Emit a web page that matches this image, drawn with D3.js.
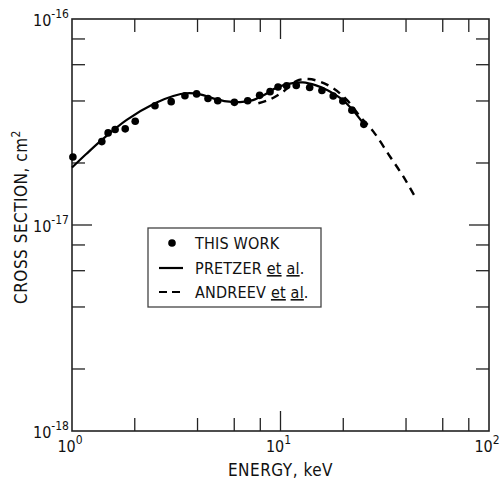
<!DOCTYPE html>
<html>
<head>
<meta charset="utf-8">
<script src="https://cdn.jsdelivr.net/npm/d3@7"></script>
<style>
  html, body { margin: 0; padding: 0; background: #fff; }
  svg text { font-family: "Liberation Sans Narrow", "DejaVu Sans Condensed", "Liberation Sans", sans-serif; fill: #111; }
</style>
</head>
<body>
<div id="chart"></div>
<script>
// Cross section vs energy, log-log, three data sets

// measured points (THIS WORK): energy in keV, cross section in cm^2
const workE = [1.01, 1.39, 1.49, 1.61, 1.80, 2.01, 2.50, 2.99, 3.48, 3.96, 4.49, 5.00,
  6.01, 6.96, 7.94, 8.91, 9.73, 10.7, 11.9, 13.8, 15.8, 17.9, 19.9, 22.0, 25.1]
const workS = [2.14e-17, 2.54e-17, 2.80e-17, 2.91e-17, 2.93e-17, 3.19e-17, 3.79e-17, 3.97e-17,
  4.24e-17, 4.33e-17, 4.11e-17, 4.01e-17, 3.94e-17, 4.01e-17, 4.26e-17, 4.44e-17, 4.68e-17,
  4.74e-17, 4.76e-17, 4.65e-17, 4.50e-17, 4.23e-17, 4.00e-17, 3.61e-17, 3.08e-17]

// PRETZER et al. (solid)
const pretzerE = [1.00, 1.17, 1.39, 1.83, 2.50, 3.06, 3.55, 4.11, 4.75, 5.52, 6.39, 7.38,
  8.43, 9.59, 11.1, 12.8, 14.8, 16.9, 19.3, 22.0, 24.9]
const pretzerS = [1.90e-17, 2.21e-17, 2.59e-17, 3.24e-17, 3.90e-17, 4.23e-17, 4.36e-17, 4.31e-17,
  4.12e-17, 3.98e-17, 3.95e-17, 4.04e-17, 4.30e-17, 4.65e-17, 4.86e-17, 4.92e-17, 4.76e-17,
  4.50e-17, 4.14e-17, 3.66e-17, 3.12e-17]

// ANDREEV et al. (dashed)
const andreevE = [7.83, 8.91, 10.3, 11.96, 13.6, 15.5, 17.9, 20.8, 24.1, 27.9, 33.5, 38.8, 44.2]
const andreevS = [3.90e-17, 4.07e-17, 4.44e-17, 5.01e-17, 5.11e-17, 4.96e-17, 4.61e-17,
  4.05e-17, 3.36e-17, 2.84e-17, 2.15e-17, 1.72e-17, 1.37e-17]

const xDecades = [1, 10, 100]
const xExp = ["0", "1", "2"]
const yDecades = [1e-18, 1e-17, 1e-16]
const yExp = ["-18", "-17", "-16"]
const minorMult = [2, 4, 6, 8]

const legendNames = ["THIS WORK", "PRETZER", "ANDREEV"]

const WIDTH = 500
const HEIGHT = 487
const MARGIN = { TOP: 19, RIGHT: 11, BOTTOM: 56, LEFT: 72 }

const svg = d3.select("#chart")
  .append("svg")
  .attr("width", WIDTH)
  .attr("height", HEIGHT)

const x = d3.scaleLog()
  .domain([1, 100])
  .range([MARGIN.LEFT, WIDTH - MARGIN.RIGHT])

const y = d3.scaleLog()
  .domain([1e-18, 1e-16])
  .range([HEIGHT - MARGIN.BOTTOM, MARGIN.TOP])

const x0 = x.range()[0], x1 = x.range()[1]
const y0 = y.range()[0], y1 = y.range()[1]

// frame
svg.append("rect")
  .attr("x", x0).attr("y", y1)
  .attr("width", x1 - x0).attr("height", y0 - y1)
  .attr("fill", "none")
  .attr("stroke", "#222")
  .attr("stroke-width", 1.6)

// ticks (inward on all four sides)
const ticks = svg.append("g").attr("stroke", "#222").attr("stroke-width", 1.3)
const MINOR = 13, MAJOR = 20

let xTicks = []
xDecades.slice(0, -1).forEach(d => {
  minorMult.forEach(m => xTicks.push({ v: d * m, len: MINOR }))
  if (d > 1) xTicks.push({ v: d, len: MAJOR })
})
xTicks.forEach(t => {
  ticks.append("line").attr("x1", x(t.v)).attr("x2", x(t.v))
    .attr("y1", y0).attr("y2", y0 - t.len)
  ticks.append("line").attr("x1", x(t.v)).attr("x2", x(t.v))
    .attr("y1", y1).attr("y2", y1 + t.len)
})

let yTicks = []
yDecades.slice(0, -1).forEach(d => {
  minorMult.forEach(m => yTicks.push({ v: d * m, len: MINOR }))
  if (d > 1e-18) yTicks.push({ v: d, len: MAJOR })
})
yTicks.forEach(t => {
  ticks.append("line").attr("y1", y(t.v)).attr("y2", y(t.v))
    .attr("x1", x0).attr("x2", x0 + t.len)
  ticks.append("line").attr("y1", y(t.v)).attr("y2", y(t.v))
    .attr("x1", x1).attr("x2", x1 - t.len)
})

// tick labels
xDecades.forEach((d, i) => {
  const t = svg.append("text")
    .attr("x", x(d) - 2)
    .attr("y", y0 + 21)
    .attr("text-anchor", "middle")
    .style("font-size", "16px")
  t.append("tspan").text("10")
  t.append("tspan").attr("dy", -8).style("font-size", "12px").text(xExp[i])
})

yDecades.forEach((d, i) => {
  const t = svg.append("text")
    .attr("x", x0 - 3)
    .attr("y", y(d) + 7)
    .attr("text-anchor", "end")
    .style("font-size", "16px")
  t.append("tspan").text("10")
  t.append("tspan").attr("dy", -8).style("font-size", "12px").text(yExp[i])
})

// axis titles
svg.append("text")
  .attr("x", (x0 + x1) / 2)
  .attr("y", HEIGHT - 11)
  .attr("text-anchor", "middle")
  .style("font-size", "17px")
  .style("letter-spacing", "0.5px")
  .text("ENERGY,  keV")

const yt = svg.append("text")
  .attr("transform", `translate(27,${(y0 + y1) / 2 - 8}) rotate(-90)`)
  .attr("text-anchor", "middle")
  .style("font-size", "17px")
  .style("letter-spacing", "0.5px")
yt.append("tspan").text("CROSS SECTION, cm")
yt.append("tspan").attr("dy", -7).style("font-size", "12px").text("2")

// curves
const line = d3.line()
  .x(d => x(d[0]))
  .y(d => y(d[1]))
  .curve(d3.curveCatmullRom.alpha(0.5))

svg.append("path")
  .datum(d3.zip(pretzerE, pretzerS))
  .attr("d", line)
  .attr("fill", "none")
  .attr("stroke", "#000")
  .attr("stroke-width", 2.2)

svg.append("path")
  .datum(d3.zip(andreevE, andreevS))
  .attr("d", line)
  .attr("fill", "none")
  .attr("stroke", "#000")
  .attr("stroke-width", 2.4)
  .attr("stroke-dasharray", "8,6")

svg.append("g")
  .selectAll("circle")
  .data(d3.zip(workE, workS))
  .join("circle")
  .attr("cx", d => x(d[0]))
  .attr("cy", d => y(d[1]))
  .attr("r", 3.8)
  .attr("fill", "#000")

// legend
const lg = svg.append("g")
lg.append("rect")
  .attr("x", 148).attr("y", 228)
  .attr("width", 173).attr("height", 79)
  .attr("fill", "#fff")
  .attr("stroke", "#444")
  .attr("stroke-width", 1.3)

const rows = [243, 268, 292]
lg.append("circle").attr("cx", 172).attr("cy", rows[0]).attr("r", 3.8).attr("fill", "#000")
lg.append("line").attr("x1", 159).attr("x2", 183).attr("y1", rows[1]).attr("y2", rows[1])
  .attr("stroke", "#000").attr("stroke-width", 2.2)
lg.append("line").attr("x1", 159).attr("x2", 184).attr("y1", rows[2]).attr("y2", rows[2])
  .attr("stroke", "#000").attr("stroke-width", 2.2).attr("stroke-dasharray", "8,5")

legendNames.forEach((name, i) => {
  const t = lg.append("text")
    .attr("x", 195)
    .attr("y", rows[i] + 6)
    .style("font-size", "16px")
    .style("letter-spacing", "0.2px")
  t.append("tspan").text(name)
  if (i > 0) {
    t.append("tspan").text(" ")
    t.append("tspan").style("text-decoration", "underline").text("et")
    t.append("tspan").text(" ")
    t.append("tspan").style("text-decoration", "underline").text("al")
    t.append("tspan").text(".")
  }
})
</script>
</body>
</html>
